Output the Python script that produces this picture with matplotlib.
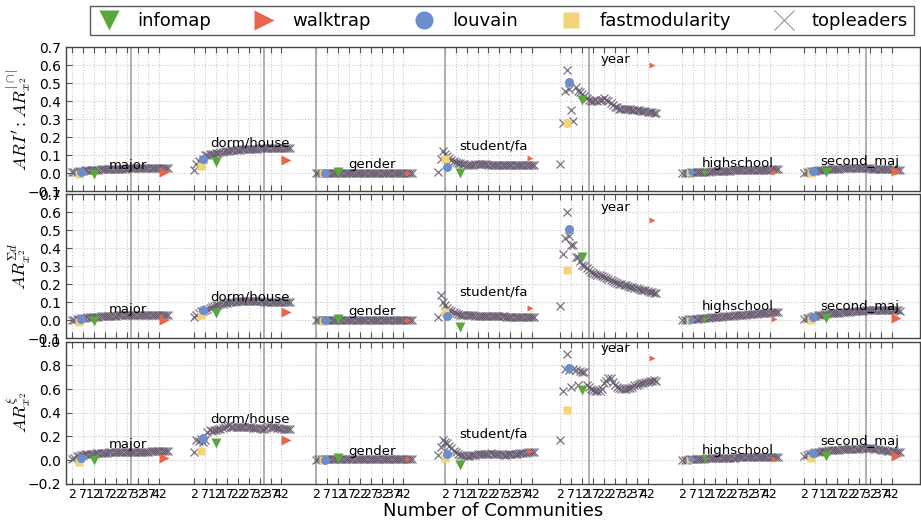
import matplotlib
matplotlib.use("Agg")
import matplotlib.pyplot as plt
from matplotlib.lines import Line2D

#-------------- data --------------
groups = ["major", "dorm/house", "gender", "student/fa", "year", "highschool", "second_maj"]
k_topleaders = list(range(2, 47))
tick_values = [2, 7, 12, 17, 22, 27, 32, 37, 42]
true_k = [29, 34, 2, 5, 15, None, 30]     # grey lines, none for highschool
k_infomap, k_walktrap, k_louvain, k_fastmod = 12, 44, 6, 5

# panel 1 : ARI' : AR |cap|
tl_ari = [
    [0.005, 0.008, 0.010, 0.012, 0.013, 0.015, 0.016, 0.017, 0.018,
     0.019, 0.020, 0.021, 0.021, 0.022, 0.022, 0.023, 0.023, 0.024,
     0.024, 0.025, 0.025, 0.025, 0.026, 0.026, 0.026, 0.027, 0.027,
     0.027, 0.027, 0.028, 0.028, 0.028, 0.028, 0.028, 0.029, 0.029,
     0.029, 0.029, 0.029, 0.030, 0.030, 0.030, 0.030, 0.030, 0.030],
    [0.020, 0.050, 0.070, 0.060, 0.080, 0.100, 0.100, 0.105, 0.110,
     0.110, 0.115, 0.115, 0.120, 0.120, 0.122, 0.125, 0.126, 0.127,
     0.128, 0.130, 0.130, 0.132, 0.133, 0.134, 0.135, 0.135, 0.136,
     0.136, 0.137, 0.137, 0.138, 0.138, 0.138, 0.139, 0.139, 0.139,
     0.140, 0.140, 0.140, 0.140, 0.141, 0.141, 0.141, 0.142, 0.142],
    [0.000, 0.001, 0.001, 0.002, 0.002, 0.002, 0.002, 0.003, 0.003,
     0.003, 0.003, 0.003, 0.003, 0.003, 0.003, 0.003, 0.003, 0.003,
     0.003, 0.003, 0.003, 0.003, 0.003, 0.003, 0.003, 0.003, 0.003,
     0.003, 0.003, 0.003, 0.003, 0.003, 0.003, 0.003, 0.003, 0.003,
     0.003, 0.003, 0.003, 0.003, 0.003, 0.003, 0.003, 0.003, 0.003],
    [0.010, 0.080, 0.125, 0.110, 0.095, 0.085, 0.075, 0.068, 0.062,
     0.058, 0.055, 0.052, 0.050, 0.048, 0.047, 0.047, 0.048, 0.050,
     0.050, 0.051, 0.051, 0.050, 0.049, 0.048, 0.047, 0.046, 0.046,
     0.047, 0.048, 0.048, 0.047, 0.046, 0.045, 0.045, 0.046, 0.046,
     0.046, 0.045, 0.045, 0.044, 0.044, 0.045, 0.045, 0.044, 0.044],
    [0.050, 0.280, 0.460, 0.575, 0.470, 0.350, 0.290, 0.480, 0.460,
     0.450, 0.440, 0.430, 0.420, 0.410, 0.400, 0.400, 0.410, 0.400,
     0.410, 0.410, 0.420, 0.410, 0.400, 0.390, 0.380, 0.370, 0.370,
     0.360, 0.360, 0.360, 0.355, 0.360, 0.355, 0.350, 0.350, 0.350,
     0.350, 0.345, 0.345, 0.345, 0.340, 0.340, 0.340, 0.335, 0.335],
    [0.001, 0.002, 0.003, 0.004, 0.005, 0.006, 0.007, 0.007, 0.008,
     0.009, 0.009, 0.010, 0.010, 0.011, 0.011, 0.012, 0.012, 0.013,
     0.013, 0.014, 0.014, 0.015, 0.015, 0.016, 0.016, 0.016, 0.017,
     0.017, 0.017, 0.018, 0.018, 0.018, 0.019, 0.019, 0.019, 0.020,
     0.020, 0.020, 0.021, 0.021, 0.021, 0.022, 0.022, 0.022, 0.022],
    [0.002, 0.005, 0.008, 0.011, 0.013, 0.015, 0.017, 0.019, 0.020,
     0.021, 0.022, 0.023, 0.024, 0.025, 0.025, 0.026, 0.026, 0.027,
     0.027, 0.028, 0.028, 0.028, 0.029, 0.029, 0.029, 0.029, 0.028,
     0.028, 0.028, 0.027, 0.027, 0.026, 0.026, 0.025, 0.025, 0.024,
     0.024, 0.023, 0.023, 0.022, 0.022, 0.022, 0.021, 0.021, 0.020],
]
infomap_ari = [-0.005, 0.065, 0.007, 0.002, 0.41, 0.003, 0.007]
walktrap_ari = [0.008, 0.072, 0.001, 0.083, 0.60, 0.006, 0.013]
louvain_ari = [0.006, 0.078, 0.001, 0.035, 0.51, 0.005, 0.013]
fastmod_ari = [-0.005, 0.041, 0.001, 0.077, 0.28, 0.000, 0.000]

# panel 2 : AR sigma d
tl_sd = [
    [0.002, 0.005, 0.008, 0.010, 0.012, 0.014, 0.015, 0.017, 0.018,
     0.019, 0.020, 0.021, 0.022, 0.023, 0.024, 0.024, 0.025, 0.026,
     0.026, 0.027, 0.027, 0.028, 0.028, 0.029, 0.029, 0.029, 0.030,
     0.030, 0.030, 0.031, 0.031, 0.031, 0.031, 0.032, 0.032, 0.032,
     0.032, 0.032, 0.033, 0.033, 0.033, 0.033, 0.033, 0.033, 0.033],
    [0.018, 0.030, 0.040, 0.050, 0.055, 0.060, 0.065, 0.070, 0.075,
     0.080, 0.084, 0.088, 0.091, 0.094, 0.097, 0.099, 0.101, 0.103,
     0.104, 0.105, 0.106, 0.107, 0.107, 0.108, 0.108, 0.108, 0.108,
     0.108, 0.107, 0.107, 0.106, 0.106, 0.105, 0.105, 0.104, 0.104,
     0.103, 0.103, 0.102, 0.102, 0.102, 0.101, 0.101, 0.101, 0.100],
    [0.000, 0.001, 0.001, 0.002, 0.002, 0.002, 0.003, 0.003, 0.003,
     0.003, 0.003, 0.003, 0.003, 0.003, 0.003, 0.003, 0.003, 0.003,
     0.003, 0.003, 0.003, 0.003, 0.003, 0.003, 0.003, 0.003, 0.003,
     0.003, 0.003, 0.003, 0.003, 0.003, 0.003, 0.003, 0.003, 0.003,
     0.003, 0.003, 0.003, 0.003, 0.003, 0.003, 0.003, 0.003, 0.003],
    [0.020, 0.140, 0.100, 0.085, 0.070, 0.060, 0.050, 0.045, 0.040,
     0.036, 0.033, 0.031, 0.030, 0.029, 0.028, 0.028, 0.028, 0.027,
     0.027, 0.027, 0.026, 0.026, 0.025, 0.025, 0.025, 0.024, 0.024,
     0.024, 0.023, 0.023, 0.023, 0.022, 0.022, 0.022, 0.021, 0.021,
     0.021, 0.020, 0.020, 0.020, 0.019, 0.019, 0.019, 0.018, 0.018],
    [0.080, 0.370, 0.460, 0.600, 0.470, 0.420, 0.420, 0.350, 0.350,
     0.330, 0.310, 0.300, 0.290, 0.280, 0.270, 0.265, 0.260, 0.255,
     0.250, 0.245, 0.240, 0.235, 0.230, 0.225, 0.220, 0.215, 0.210,
     0.205, 0.200, 0.198, 0.195, 0.190, 0.188, 0.185, 0.180, 0.178,
     0.175, 0.172, 0.170, 0.167, 0.164, 0.161, 0.158, 0.155, 0.152],
    [0.002, 0.004, 0.005, 0.006, 0.008, 0.009, 0.010, 0.011, 0.012,
     0.013, 0.014, 0.015, 0.016, 0.017, 0.018, 0.019, 0.020, 0.021,
     0.022, 0.023, 0.024, 0.025, 0.026, 0.027, 0.028, 0.029, 0.030,
     0.031, 0.032, 0.033, 0.034, 0.035, 0.036, 0.037, 0.038, 0.039,
     0.040, 0.041, 0.042, 0.043, 0.044, 0.045, 0.046, 0.047, 0.048],
    [0.008, 0.012, 0.016, 0.020, 0.023, 0.026, 0.029, 0.031, 0.033,
     0.035, 0.037, 0.039, 0.040, 0.041, 0.042, 0.043, 0.044, 0.045,
     0.046, 0.047, 0.048, 0.049, 0.050, 0.051, 0.052, 0.053, 0.054,
     0.055, 0.056, 0.057, 0.058, 0.059, 0.060, 0.060, 0.061, 0.061,
     0.061, 0.061, 0.060, 0.060, 0.059, 0.058, 0.057, 0.056, 0.055],
]
infomap_sd = [-0.004, 0.041, 0.008, -0.035, 0.35, 0.004, 0.012]
walktrap_sd = [0.004, 0.046, 0.002, 0.070, 0.56, 0.010, 0.015]
louvain_sd = [0.009, 0.060, 0.000, 0.025, 0.51, 0.005, 0.020]
fastmod_sd = [-0.010, 0.028, -0.002, 0.045, 0.28, 0.000, 0.000]

# panel 3 : AR xi
tl_xi = [
    [0.010, 0.020, 0.030, 0.038, 0.042, 0.045, 0.047, 0.049, 0.051,
     0.053, 0.055, 0.057, 0.058, 0.060, 0.061, 0.062, 0.063, 0.064,
     0.064, 0.065, 0.065, 0.066, 0.066, 0.066, 0.067, 0.067, 0.068,
     0.068, 0.069, 0.069, 0.070, 0.070, 0.071, 0.071, 0.072, 0.072,
     0.073, 0.073, 0.074, 0.075, 0.075, 0.076, 0.077, 0.078, 0.079],
    [0.070, 0.170, 0.160, 0.180, 0.155, 0.170, 0.240, 0.250, 0.245,
     0.250, 0.255, 0.260, 0.265, 0.270, 0.280, 0.290, 0.300, 0.280,
     0.275, 0.275, 0.280, 0.280, 0.280, 0.275, 0.275, 0.275, 0.275,
     0.270, 0.270, 0.270, 0.270, 0.265, 0.265, 0.270, 0.285, 0.280,
     0.280, 0.275, 0.270, 0.270, 0.265, 0.265, 0.260, 0.260, 0.260],
    [0.004, 0.006, 0.008, 0.009, 0.010, 0.010, 0.011, 0.011, 0.011,
     0.011, 0.011, 0.011, 0.011, 0.011, 0.011, 0.011, 0.011, 0.011,
     0.011, 0.011, 0.010, 0.010, 0.010, 0.010, 0.010, 0.010, 0.010,
     0.010, 0.010, 0.010, 0.010, 0.010, 0.010, 0.010, 0.010, 0.010,
     0.010, 0.010, 0.010, 0.010, 0.010, 0.010, 0.010, 0.010, 0.010],
    [0.040, 0.110, 0.170, 0.155, 0.140, 0.120, 0.100, 0.080, 0.065,
     0.055, 0.045, 0.040, 0.036, 0.034, 0.036, 0.040, 0.043, 0.046,
     0.048, 0.050, 0.050, 0.052, 0.054, 0.055, 0.056, 0.055, 0.054,
     0.052, 0.050, 0.048, 0.046, 0.046, 0.048, 0.050, 0.052, 0.054,
     0.055, 0.057, 0.058, 0.060, 0.062, 0.064, 0.065, 0.066, 0.066],
    [0.170, 0.585, 0.770, 0.895, 0.760, 0.620, 0.770, 0.760, 0.630,
     0.750, 0.740, 0.740, 0.635, 0.620, 0.600, 0.590, 0.585, 0.580,
     0.580, 0.600, 0.650, 0.670, 0.690, 0.690, 0.660, 0.630, 0.620,
     0.610, 0.600, 0.600, 0.600, 0.610, 0.610, 0.620, 0.630, 0.630,
     0.640, 0.650, 0.650, 0.660, 0.660, 0.670, 0.670, 0.680, 0.670],
    [0.002, 0.003, 0.004, 0.005, 0.006, 0.007, 0.008, 0.009, 0.010,
     0.011, 0.012, 0.013, 0.013, 0.014, 0.015, 0.016, 0.016, 0.017,
     0.018, 0.018, 0.019, 0.020, 0.020, 0.021, 0.021, 0.022, 0.022,
     0.023, 0.023, 0.024, 0.024, 0.025, 0.025, 0.025, 0.026, 0.026,
     0.026, 0.027, 0.027, 0.027, 0.028, 0.028, 0.028, 0.028, 0.028],
    [0.030, 0.040, 0.050, 0.055, 0.060, 0.065, 0.070, 0.072, 0.075,
     0.077, 0.079, 0.081, 0.083, 0.085, 0.086, 0.087, 0.088, 0.089,
     0.090, 0.091, 0.092, 0.093, 0.094, 0.095, 0.096, 0.097, 0.098,
     0.099, 0.100, 0.100, 0.100, 0.099, 0.097, 0.094, 0.090, 0.087,
     0.084, 0.081, 0.079, 0.077, 0.075, 0.074, 0.072, 0.071, 0.070],
]
infomap_xi = [0.000, 0.147, 0.014, -0.040, 0.59, 0.014, 0.034]
walktrap_xi = [0.020, 0.170, 0.008, 0.076, 0.86, 0.008, 0.034]
louvain_xi = [0.014, 0.190, 0.003, 0.050, 0.78, 0.006, 0.057]
fastmod_xi = [-0.014, 0.080, -0.003, 0.014, 0.42, -0.003, 0.014]

#-------------- layout / style --------------
GROUP_STEP = 56
tick_shift = [0, 0, 0, 3, 0, 0, 0]
label_y = [
    [0.045, 0.17, 0.05, 0.15, 0.63, 0.054, 0.063],
    [0.06, 0.133, 0.05, 0.16, 0.63, 0.08, 0.08],
    [0.13, 0.345, 0.07, 0.22, 0.94, 0.08, 0.155],
]
ms_info = [7, 7, 7, 7, 7, 5, 7]
ms_walk = [7, 7, 5, 5, 5, 4.5, 7]
ms_louv = [6.5, 6.5, 6.5, 6.5, 6.5, 4.5, 6.5]
ms_fast = [6, 6, 6, 6, 6, 4.5, 6]

panels = [
    (tl_ari, infomap_ari, walktrap_ari, louvain_ari, fastmod_ari,
     r"$ARI':AR_{x^2}^{|\cap|}$", (-0.1, 0.7), [-0.1, 0.0, 0.1, 0.2, 0.3, 0.4, 0.5, 0.6, 0.7]),
    (tl_sd, infomap_sd, walktrap_sd, louvain_sd, fastmod_sd,
     r"$AR_{x^2}^{\Sigma d}$", (-0.1, 0.7), [-0.1, 0.0, 0.1, 0.2, 0.3, 0.4, 0.5, 0.6, 0.7]),
    (tl_xi, infomap_xi, walktrap_xi, louvain_xi, fastmod_xi,
     r"$AR_{x^2}^{\xi}$", (-0.2, 1.0), [-0.2, 0.0, 0.2, 0.4, 0.6, 0.8, 1.0]),
]
rects = [
    [0.0713, 0.6328, 0.9276, 0.2764],
    [0.0713, 0.3503, 0.9276, 0.2764],
    [0.0713, 0.0716, 0.9276, 0.2726],
]

C_INFO = "#5aa83c"
C_WALK = "#e8674c"
C_LOUV = "#6b8fcd"
C_FAST = "#f3d47a"
C_TOP = "#62566b"

plt.rcParams['mathtext.fontset'] = 'cm'
plt.rcParams['font.family'] = ['DejaVu Sans']

fig = plt.figure(figsize=(9.21, 5.21), dpi=100)

xticks = []
xticklabels = []
for g in range(len(groups)):
    for t in tick_values:
        xticks.append(g * GROUP_STEP + tick_shift[g] + t)
        xticklabels.append(str(t))

for p, (tl, info, walk, louv, fast, ylab, ylim, yticks) in enumerate(panels):
    ax = fig.add_axes(rects[p])
    for g, name in enumerate(groups):
        off = g * GROUP_STEP
        xs = [off + k for k in k_topleaders]
        ax.plot(xs, tl[g], ls='none', marker='x', ms=6, mew=0.9,
                color=C_TOP, alpha=0.85, zorder=3)
        ax.plot(off + k_fastmod, fast[g], ls='none', marker='s', ms=ms_fast[g],
                color=C_FAST, mec='none', zorder=4)
        ax.plot(off + k_louvain, louv[g], ls='none', marker='o', ms=ms_louv[g],
                color=C_LOUV, mec='none', zorder=4)
        ax.plot(off + k_infomap, info[g], ls='none', marker='v', ms=ms_info[g],
                color=C_INFO, mec='none', zorder=4)
        ax.plot(off + k_walktrap, walk[g], ls='none', marker='>', ms=ms_walk[g],
                color=C_WALK, mec='none', zorder=4)
        if true_k[g] is not None:
            ax.axvline(off + true_k[g], color='#aaaaaa', lw=1.3, zorder=2)
        ax.text(off + 27.5, label_y[p][g], name, ha='center', va='center',
                fontsize=9.5, zorder=5)

    ax.set_xlim(-1, 391)
    ax.set_ylim(*ylim)
    ax.set_yticks(yticks)
    ax.set_yticklabels(["%.1f" % v if v >= 0 else "\u22120.%d" % round(-v * 10) for v in yticks])
    ax.set_xticks(xticks)
    if p == 2:
        ax.set_xticklabels(xticklabels)
        ax.set_xlabel("Number of Communities", fontsize=13, labelpad=1)
    else:
        ax.set_xticklabels([])
    ax.tick_params(axis='x', direction='in', top=True, length=4, labelsize=9,
                   color='#555555', pad=3)
    ax.tick_params(axis='y', direction='in', length=4, labelsize=10,
                   color='#555555')
    ax.grid(True, ls=':', color='#c8c8c8', lw=0.8, zorder=0)
    for s in ax.spines.values():
        s.set_color('#444444')
        s.set_linewidth(1.0)
    ax.set_ylabel(ylab, fontsize=13)
    ax.yaxis.set_label_coords(-0.038, 0.5)

handles = [
    Line2D([], [], ls='none', marker='v', ms=14, color=C_INFO, mec='none'),
    Line2D([], [], ls='none', marker='>', ms=14, color=C_WALK, mec='none'),
    Line2D([], [], ls='none', marker='o', ms=13, color=C_LOUV, mec='none'),
    Line2D([], [], ls='none', marker='s', ms=12, color=C_FAST, mec='none'),
    Line2D([], [], ls='none', marker='x', ms=14, mew=0.8, color='#9a90a2'),
]
leg = fig.legend(handles, ["infomap", "walktrap", "louvain", "fastmodularity", "topleaders"],
                 loc='upper center', bbox_to_anchor=(0.545, 1.005), ncol=5,
                 fontsize=13, frameon=True, fancybox=False, borderpad=0.3,
                 handletextpad=0.8, columnspacing=2.2, handlelength=1.5)
leg.get_frame().set_edgecolor('#333333')
leg.get_frame().set_linewidth(1.0)

fig.savefig("out.png", dpi=100)
